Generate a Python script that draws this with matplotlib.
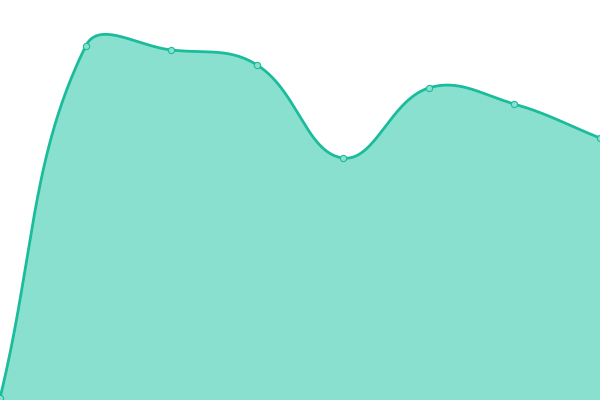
import numpy as np
import matplotlib
matplotlib.use("Agg")
import matplotlib.pyplot as plt

labels = ["A", "B", "C", "D", "E", "F", "G", "H"]
values = [2, 354, 350, 335, 242, 312, 296, 262]

line_color = "#1abc9c"
fill_color = "#8ae0cf"
tension = 0.4

fig = plt.figure(figsize=(6, 4), dpi=100)
ax = fig.add_axes([0, 0, 1, 1])
ax.set_xlim(0, len(labels) - 1)
ax.set_ylim(0, 400)
ax.axis("off")

# work in pixel space like a canvas chart does
x = np.arange(len(labels))
pts = ax.transData.transform(np.column_stack([x, values]))

def spline_curve(p):
    n = len(p)
    cps = []
    for i in range(n):
        prev = p[max(i - 1, 0)]
        cur = p[i]
        nxt = p[min(i + 1, n - 1)]
        d01 = np.hypot(*(cur - prev))
        d12 = np.hypot(*(nxt - cur))
        s = d01 + d12
        fa = tension * d01 / s if s else 0
        fb = tension * d12 / s if s else 0
        cps.append((cur - fa * (nxt - prev), cur + fb * (nxt - prev)))
    t = np.linspace(0, 1, 60)[:, None]
    out = [p[0:1]]
    for i in range(n - 1):
        p0, p3 = p[i], p[i + 1]
        c1, c2 = cps[i][1], cps[i + 1][0]
        seg = ((1 - t) ** 3) * p0 + 3 * ((1 - t) ** 2) * t * c1 + 3 * (1 - t) * t ** 2 * c2 + t ** 3 * p3
        out.append(seg[1:])
    return np.vstack(out)

curve = ax.transData.inverted().transform(spline_curve(pts))

ax.fill_between(curve[:, 0], curve[:, 1], 0, color=fill_color, lw=0)
ax.plot(curve[:, 0], curve[:, 1], color=line_color, lw=2.0, solid_capstyle="round")
ax.plot(x, values, "o", ms=4.5, mfc=fill_color, mec=line_color, mew=0.8, clip_on=True)

fig.savefig("out.png", dpi=100)
